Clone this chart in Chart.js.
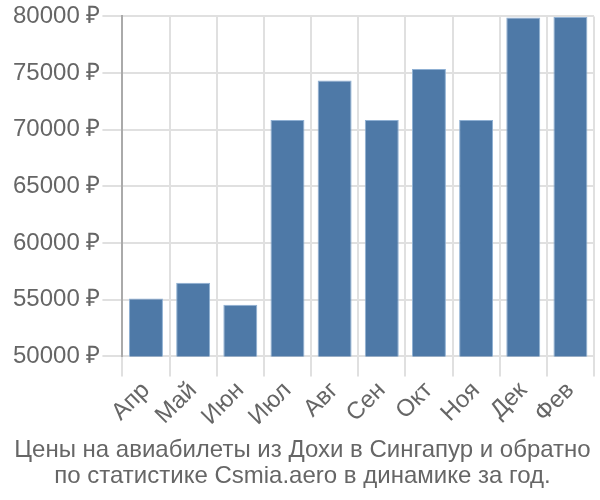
<!DOCTYPE html>
<html>
<head>
<meta charset="utf-8">
<script src="https://cdn.jsdelivr.net/npm/chart.js@4"></script>
<style>
  html, body { margin: 0; padding: 0; background: #fff; }
  #wrap { width: 600px; height: 500px; }
</style>
</head>
<body>
<div id="wrap"><canvas id="chart"></canvas></div>
<script>
const months = ["Апр", "Май", "Июн", "Июл", "Авг", "Сен", "Окт", "Ноя", "Дек", "Фев"];
const prices = [55100, 56500, 54550, 70850, 74350, 70850, 75350, 70850, 79900, 79950];
const titleLines = [
  "Цены на авиабилеты из Дохи в Сингапур и обратно",
  "по статистике Csmia.aero в динамике за год."
];

Chart.defaults.font.family = "'Liberation Sans', Arial, sans-serif";
Chart.defaults.color = "#666";

new Chart(document.getElementById("chart"), {
  type: "bar",
  data: {
    labels: months,
    datasets: [
      {
        data: prices,
        backgroundColor: "#4e79a7",
        borderColor: "#8fb0d3",
        borderWidth: 1,
      },
    ],
  },
  options: {
    responsive: true,
    maintainAspectRatio: false,
    animation: false,
    layout: { padding: { left: 11, right: 6, top: 4, bottom: 0 } },
    plugins: {
      legend: { display: false },
      tooltip: { enabled: false },
      title: {
        display: true,
        position: "bottom",
        text: titleLines,
        color: "#666",
        font: { size: 24, weight: "normal", lineHeight: 1.1 },
        padding: { top: 6, bottom: 10 },
      },
    },
    scales: {
      x: {
        grid: { color: "#e0e0e0", lineWidth: 2, tickLength: 20, offset: true },
        border: { color: "#e0e0e0", width: 2 },
        ticks: { font: { size: 24 }, color: "#666", maxRotation: 45, minRotation: 45, padding: 0 },
      },
      y: {
        min: 50000,
        max: 80000,
        grid: { color: "#e0e0e0", lineWidth: 2, tickLength: 20 },
        border: { color: "#aaa", width: 2 },
        ticks: {
          stepSize: 5000,
          font: { size: 24 },
          color: "#666",
          padding: 2,
          callback: (v) => v + " ₽",
        },
      },
    },
  },
});
</script>
</body>
</html>
